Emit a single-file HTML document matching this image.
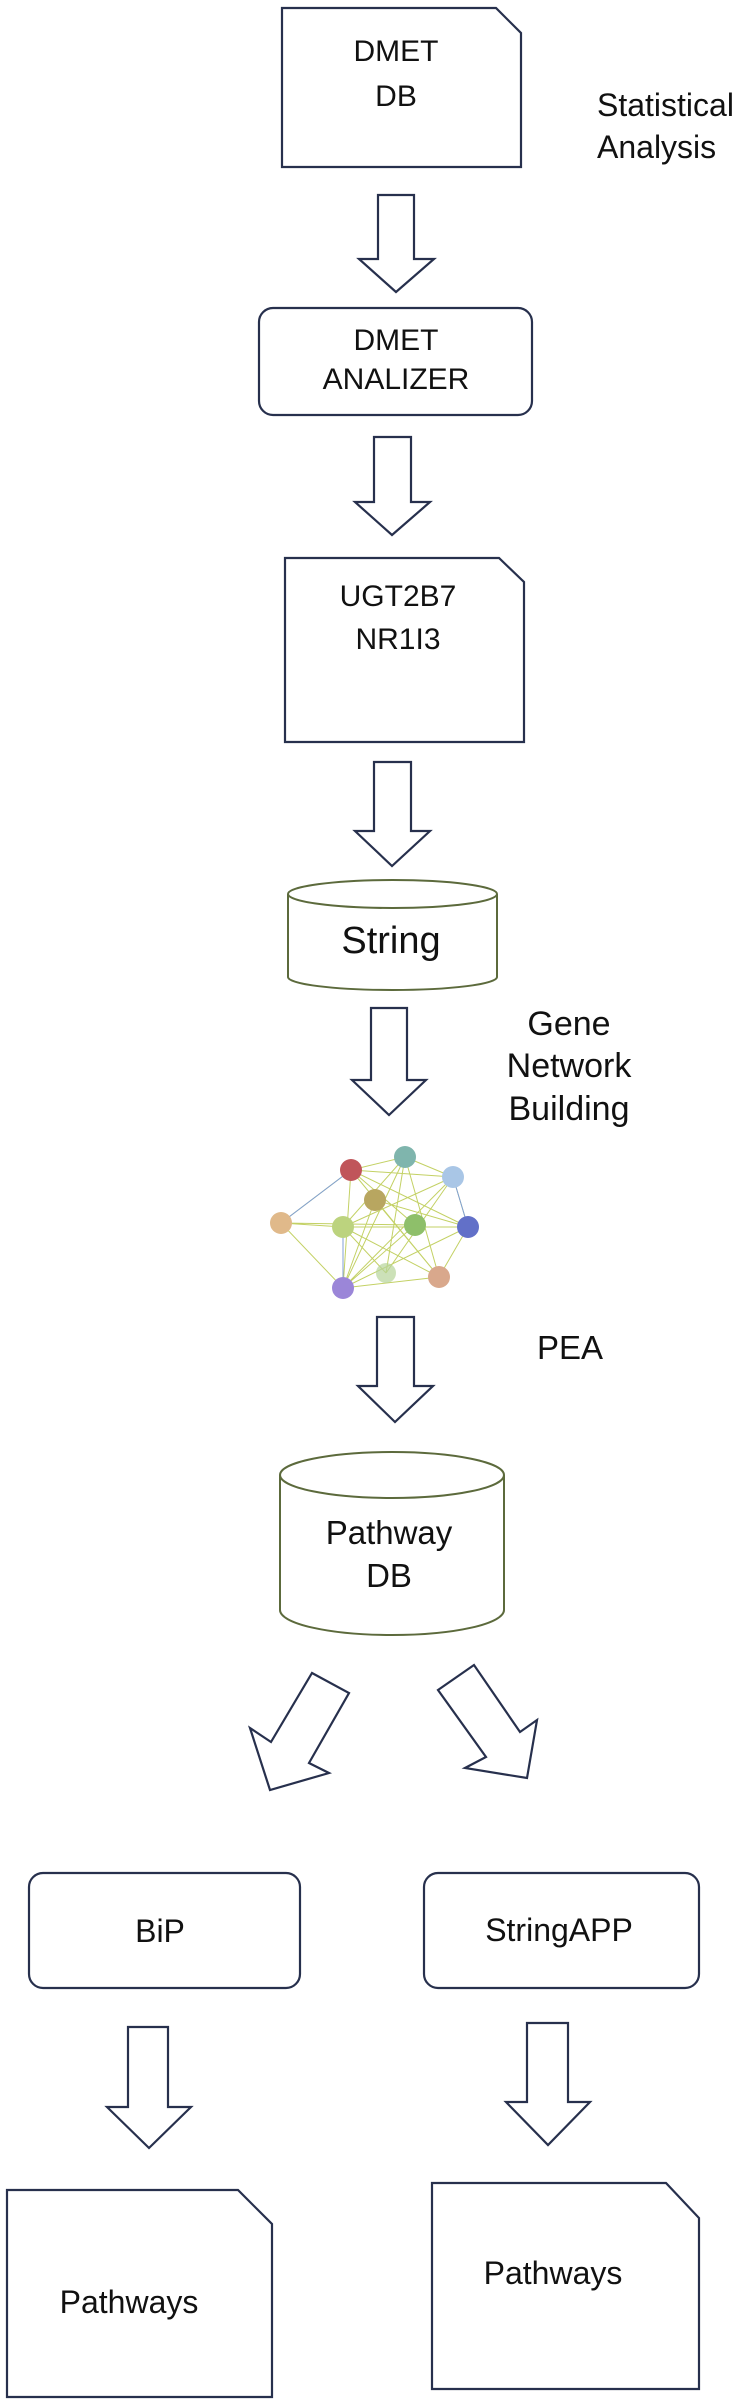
<!DOCTYPE html>
<html><head><meta charset="utf-8"><style>html,body{margin:0;padding:0;background:#fff}svg{display:block}</style></head>
<body>
<svg width="748" height="2405" viewBox="0 0 748 2405" xmlns="http://www.w3.org/2000/svg" font-family="Liberation Sans, sans-serif" fill="none">
<g stroke="#27304d" stroke-width="2.2" fill="#fff" stroke-linejoin="miter">
<!-- DMET DB -->
<path d="M282 8 H496 L521 33 V167 H282 Z"/>
<!-- arrow1 -->
<path d="M378 195 H414 V259 H434 L396 292 L359 259 H378 Z"/>
<!-- analizer -->
<rect x="259" y="308" width="273" height="107" rx="14"/>
<!-- arrow2 -->
<path d="M374 437 H411 V502 H430 L392 535 L355 502 H374 Z"/>
<!-- UGT -->
<path d="M285 558 H499 L524 582 V742 H285 Z"/>
<!-- arrow3 -->
<path d="M374 762 H411 V831 H430 L392 866 L355 831 H374 Z"/>
<!-- arrow4 -->
<path d="M371 1008 H407 V1080 H426 L389 1115 L352 1080 H371 Z"/>
<!-- arrow5 -->
<path d="M377 1317 H414 V1386 H433 L395 1422 L358 1386 H377 Z"/>
<!-- diag left -->
<path d="M312 1673 L349 1693 L309 1763 L329 1773 L270 1790 L250 1728 L271 1742 Z"/>
<!-- diag right -->
<path d="M438 1690 L474 1665 L520 1732 L537 1720 L527 1778 L465 1768 L486 1757 Z"/>
<!-- BiP / StringAPP -->
<rect x="29" y="1873" width="271" height="115" rx="14"/>
<rect x="424" y="1873" width="275" height="115" rx="14"/>
<!-- bottom arrows -->
<path d="M128 2027 H168 V2107 H191 L149 2148 L107 2107 H128 Z"/>
<path d="M527 2023 H568 V2102 H590 L548 2145 L506 2102 H527 Z"/>
<!-- Pathways boxes -->
<path d="M7 2190 H238 L272 2224 V2397 H7 Z"/>
<path d="M432 2183 H666 L699 2218 V2389 H432 Z"/>
</g>
<!-- cylinders -->
<g stroke="#5c6a3c" stroke-width="2" fill="#fff">
<path d="M288 894 V977 A104.5 13 0 0 0 497 977 V894"/>
<ellipse cx="392.5" cy="894" rx="104.5" ry="14"/>
<path d="M280 1475 V1610 A112 25 0 0 0 504 1610 V1475"/>
<ellipse cx="392" cy="1475" rx="112" ry="23"/>
</g>
<!-- network -->
<g stroke-width="1" opacity="0.85">
<g stroke="#b9c94a">
<path d="M281 1223 L351 1170 M281 1223 L343 1227 M281 1223 L343 1288 M281 1223 L415 1225 M351 1170 L405 1157 M351 1170 L453 1177 M351 1170 L343 1288 M351 1170 L468 1227 M351 1170 L439 1277 M405 1157 L453 1177 M405 1157 L343 1288 M405 1157 L439 1277 M405 1157 L343 1227 M453 1177 L468 1227 M453 1177 L343 1288 M453 1177 L343 1227 M468 1227 L343 1227 M468 1227 L343 1288 M468 1227 L439 1277 M439 1277 L343 1288 M439 1277 L343 1227 M375 1200 L439 1277 M375 1200 L468 1227 M375 1200 L343 1288 M386 1273 L405 1157 M386 1273 L453 1177 M386 1273 L343 1227 M415 1225 L343 1288 M415 1225 L351 1170"/>
</g>
<g stroke="#6a8fd0"><path d="M281 1223 L351 1170 M343 1227 L343 1288 M453 1177 L468 1227"/></g>
</g>
<g stroke="none">
<circle cx="351" cy="1170" r="11" fill="#c0555a"/>
<circle cx="405" cy="1157" r="11" fill="#7fb5ad"/>
<circle cx="453" cy="1177" r="11" fill="#a9c6e6"/>
<circle cx="375" cy="1200" r="11" fill="#b8a660"/>
<circle cx="281" cy="1223" r="11" fill="#e0b98a"/>
<circle cx="343" cy="1227" r="11" fill="#bcd37e"/>
<circle cx="415" cy="1225" r="11" fill="#8ebf6a"/>
<circle cx="468" cy="1227" r="11" fill="#6270c8"/>
<circle cx="343" cy="1288" r="11" fill="#9b86d8"/>
<circle cx="439" cy="1277" r="11" fill="#d9a88c"/>
<circle cx="386" cy="1273" r="10" fill="#b7d49a" opacity="0.7"/>
</g>
<!-- text -->
<g fill="#111" text-anchor="middle" font-size="30">
<text x="396" y="61">DMET</text>
<text x="396" y="106">DB</text>
<text x="396" y="350">DMET</text>
<text x="396" y="389">ANALIZER</text>
<text x="398" y="606">UGT2B7</text>
<text x="398" y="649">NR1I3</text>
<text x="391" y="953" font-size="38">String</text>
<g font-size="34">
<text x="569" y="1035">Gene</text>
<text x="569" y="1077">Network</text>
<text x="569" y="1120">Building</text>
</g>
<text x="570" y="1359" font-size="33">PEA</text>
<text x="389" y="1544" font-size="33">Pathway</text>
<text x="389" y="1587" font-size="33">DB</text>
<text x="160" y="1942" font-size="32">BiP</text>
<text x="559" y="1941" font-size="32">StringAPP</text>
<text x="129" y="2313" font-size="32">Pathways</text>
<text x="553" y="2284" font-size="32">Pathways</text>
</g>
<g fill="#111" font-size="32">
<text x="597" y="116">Statistical</text>
<text x="597" y="158">Analysis</text>
</g>
</svg>
</body></html>
